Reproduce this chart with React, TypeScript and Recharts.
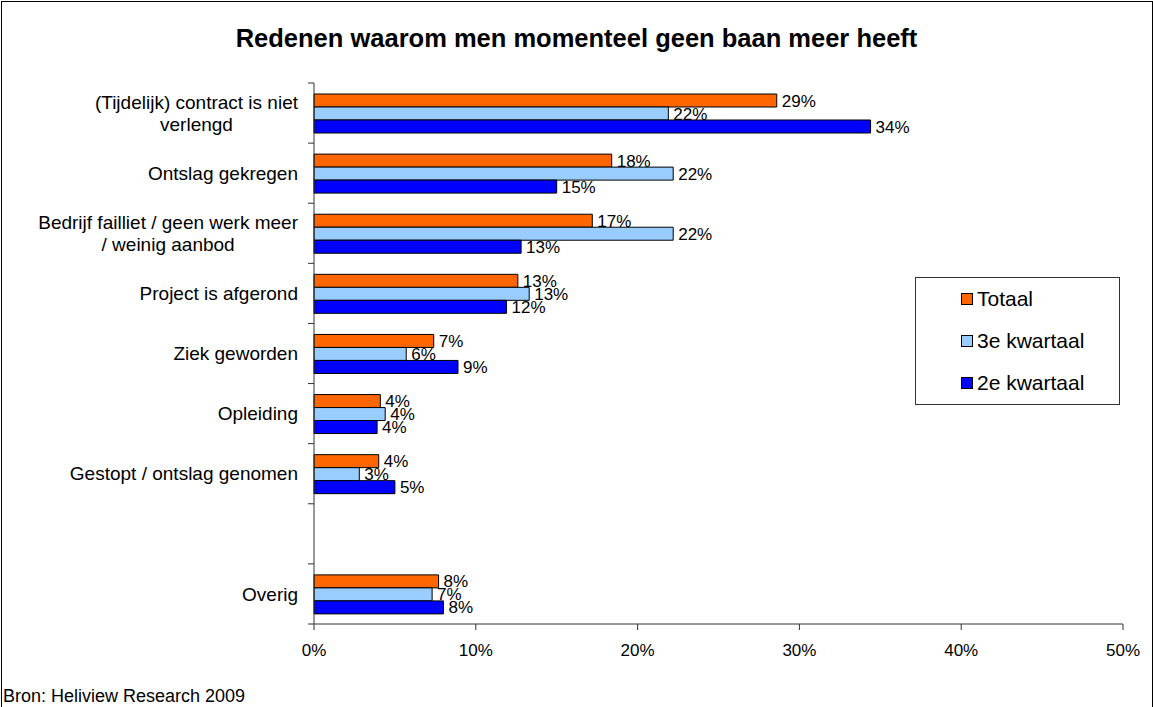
import React from "react";
import { BarChart, Bar, XAxis, YAxis, LabelList } from "recharts";

const CATEGORIES = [
  "(Tijdelijk) contract is niet\nverlengd",
  "Ontslag gekregen",
  "Bedrijf failliet / geen werk meer\n/ weinig aanbod",
  "Project is afgerond",
  "Ziek geworden",
  "Opleiding",
  "Gestopt / ontslag genomen",
  "",
  "Overig",
];

const TOTAAL = [28.6, 18.4, 17.2, 12.6, 7.4, 4.1, 4.0, null, 7.7];
const KWARTAAL_3 = [21.9, 22.2, 22.2, 13.3, 5.7, 4.4, 2.8, null, 7.3];
const KWARTAAL_2 = [34.4, 15.0, 12.8, 11.9, 8.9, 3.9, 5.0, null, 8.0];

const X_TICKS = [0, 10, 20, 30, 40, 50];

const SERIES = [
  { key: "totaal", name: "Totaal", color: "#FF6600" },
  { key: "q3", name: "3e kwartaal", color: "#99CCFF" },
  { key: "q2", name: "2e kwartaal", color: "#0000FF" },
];

const data = CATEGORIES.map((name, i) => ({
  name,
  totaal: TOTAAL[i],
  q3: KWARTAAL_3[i],
  q2: KWARTAAL_2[i],
}));

const W = 1153;
const H = 707;
const FONT = "'Liberation Sans', Arial, sans-serif";
const FS = 19;
const LABEL_FS = 17;
const MARGIN = { top: 83, right: 30, bottom: 53, left: 0 };
const XAXIS_H = 30;
const YAXIS_W = 314;
const TICK_SIZE = 6;
const TICK_MARGIN = 10;
const BAND = (H - MARGIN.top - MARGIN.bottom - XAXIS_H) / CATEGORIES.length;
const AXIS_COLOR = "#333";

let ctx: CanvasRenderingContext2D | null = null;
function textWidth(s: string) {
  if (!ctx) ctx = document.createElement("canvas").getContext("2d");
  if (!ctx) return s.length * FS * 0.5;
  ctx.font = `${FS}px ${FONT}`;
  return ctx.measureText(s).width;
}

// category labels: block right-aligned, lines centred; ticks sit between categories
function CategoryTick(props: any) {
  const { x, y, payload, index } = props;
  const axisX = x + TICK_SIZE + TICK_MARGIN;
  const lines = String(payload.value).split("\n");
  const maxW = Math.max(...lines.map(textWidth));
  const cx = x - maxW / 2;
  const lineH = 22;
  const startY = y - ((lines.length - 1) * lineH) / 2;
  return (
    <g>
      <line x1={axisX - TICK_SIZE} x2={axisX} y1={y - BAND / 2} y2={y - BAND / 2} stroke={AXIS_COLOR} />
      {index === CATEGORIES.length - 1 && (
        <line x1={axisX - TICK_SIZE} x2={axisX} y1={y + BAND / 2} y2={y + BAND / 2} stroke={AXIS_COLOR} />
      )}
      {payload.value !== "" && (
        <text textAnchor="middle" fontSize={FS} fontFamily={FONT} fill="#000">
          {lines.map((l, i) => (
            <tspan key={i} x={cx} y={startY + i * lineH} dy="0.355em">
              {l}
            </tspan>
          ))}
        </text>
      )}
    </g>
  );
}

const pct = (v: any) => (v == null ? "" : `${Math.round(Number(v))}%`);

export default function App() {
  return (
    <div style={{ position: "absolute", left: 0, top: 0, width: W, height: H, overflow: "hidden", background: "#fff", fontFamily: FONT }}>
      <div style={{ position: "absolute", left: 1, top: 1, width: W - 3, height: H + 20, border: "1px solid #000" }} />
      <div style={{ position: "absolute", left: 0, width: W, top: 24, textAlign: "center", fontSize: 25.5, fontWeight: "bold", color: "#000" }}>
        Redenen waarom men momenteel geen baan meer heeft
      </div>
      <BarChart
        width={W}
        height={H}
        data={data}
        layout="vertical"
        margin={MARGIN}
        barGap={0}
        barSize={13}
        style={{ position: "absolute", left: 0, top: 0 }}
      >
        <XAxis
          type="number"
          domain={[0, 50]}
          ticks={X_TICKS}
          tickFormatter={(v) => `${v}%`}
          height={XAXIS_H}
          tickSize={TICK_SIZE}
          tickMargin={14}
          stroke={AXIS_COLOR}
          tick={{ fill: "#000", fontSize: LABEL_FS, fontFamily: FONT }}
        />
        <YAxis
          type="category"
          dataKey="name"
          width={YAXIS_W}
          interval={0}
          tickLine={false}
          tickSize={TICK_SIZE}
          tickMargin={TICK_MARGIN}
          stroke={AXIS_COLOR}
          tick={<CategoryTick />}
        />
        {SERIES.map((s) => (
          <Bar key={s.key} dataKey={s.key} name={s.name} fill={s.color} stroke="#000" strokeWidth={1} isAnimationActive={false}>
            <LabelList dataKey={s.key} position="right" offset={5} formatter={pct} fill="#000" fontSize={LABEL_FS} fontFamily={FONT} />
          </Bar>
        ))}
      </BarChart>
      <div style={{ position: "absolute", left: 915, top: 277, width: 203, height: 126, border: "1px solid #333", background: "#fff" }}>
        {SERIES.map((s, i) => (
          <div key={s.key} style={{ position: "absolute", left: 45, top: 9 + i * 42, height: 24, display: "flex", alignItems: "center", fontSize: 21, color: "#000" }}>
            <span style={{ display: "inline-block", width: 10, height: 10, background: s.color, border: "1px solid #000", marginRight: 4 }} />
            {s.name}
          </div>
        ))}
      </div>
      <div style={{ position: "absolute", left: 3, top: 686, fontSize: 18, color: "#000" }}>Bron: Heliview Research 2009</div>
    </div>
  );
}
